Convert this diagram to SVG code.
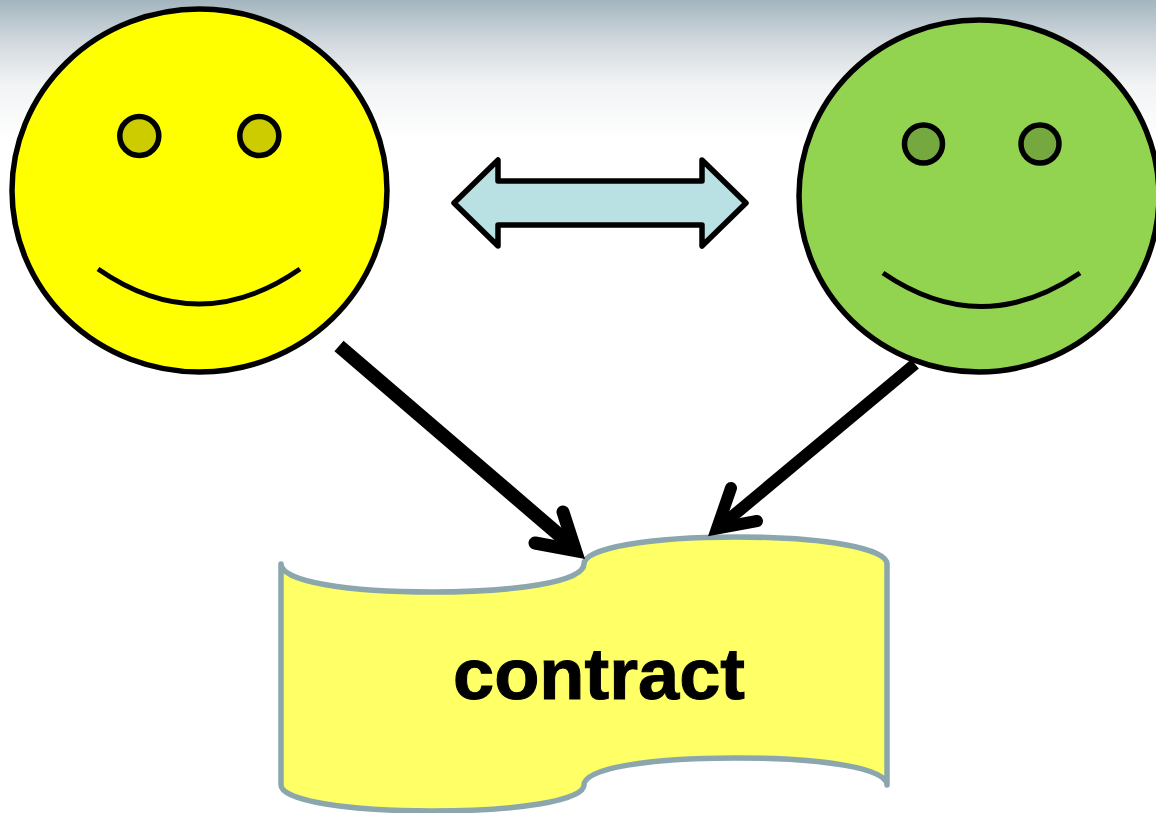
<svg xmlns="http://www.w3.org/2000/svg" width="1156" height="813" viewBox="0 0 1156 813">
<defs>
<linearGradient id="bg" x1="0" y1="0" x2="0" y2="1"><stop offset="0" stop-color="#a3b5bf"/><stop offset="0.3" stop-color="#d2d9de"/><stop offset="0.6" stop-color="#f1f3f4"/><stop offset="1" stop-color="#ffffff"/></linearGradient>
</defs>
<style>
.o{stroke:#000;stroke-width:5.500;stroke-linejoin:round;stroke-linecap:round}
.m{fill:none;stroke:#000;stroke-width:5;stroke-linecap:butt}
.c{fill:none;stroke:#000;stroke-linecap:butt}
.h{fill:none;stroke:#000;stroke-linecap:round;stroke-linejoin:miter;stroke-miterlimit:10}
text{font-family:"Liberation Sans",Arial,sans-serif;font-weight:bold;font-size:72px;stroke:#000;stroke-width:1}
</style>
<rect width="1156" height="813" fill="#fff"/>
<rect id="banner" width="1156" height="140" fill="url(#bg)"/>
<g id="smiley-left">
<ellipse class="o" cx="199.500" cy="190.500" rx="187.500" ry="181.500" fill="#ffff00"/>
<circle class="o" cx="139.300" cy="136" r="19.500" fill="#cccc00"/>
<circle class="o" cx="259.300" cy="136" r="19.500" fill="#cccc00"/>
<path class="m" d="M98 269Q199 339 300 269"/>
</g>
<g id="smiley-right">
<ellipse class="o" cx="979" cy="196" rx="180" ry="176" fill="#92d350"/>
<circle class="o" cx="923.500" cy="144" r="19" fill="#75a940"/>
<circle class="o" cx="1040" cy="144" r="19" fill="#75a940"/>
<path class="m" d="M883 273Q981 340 1080 273"/>
</g>
<g id="double-arrow">
<path class="o" d="M454 203L498 160V181H702V160L746 203L702 246V225H498V246Z" fill="#b9e0e3"/>
</g>
<g id="contract">
<path d="M281 564C281 582 350 592 432 592C515 592 584 582 584 564C584 548 650 537 736 537C822 537 887 548 887 564V785C887 768 822 758 736 758C650 758 584 768 584 785C584 801 515 811 432 811C350 811 281 801 281 785Z" fill="#ffff66" stroke="#8ba7ad" stroke-width="5.500" stroke-linejoin="round"/>
<text x="599" y="699" text-anchor="middle" textLength="292" lengthAdjust="spacingAndGlyphs">contract</text>
</g>
<g id="connectors">
<path class="c" d="M339 346L572 546" stroke-width="14"/>
<path class="h" d="M535 543L575.500 550.500L563 512" stroke-width="13"/>
<path class="c" d="M915 364L722 525" stroke-width="12"/>
<path class="h" d="M731 488L717 528.500L757 521" stroke-width="12"/>
</g>
</svg>
